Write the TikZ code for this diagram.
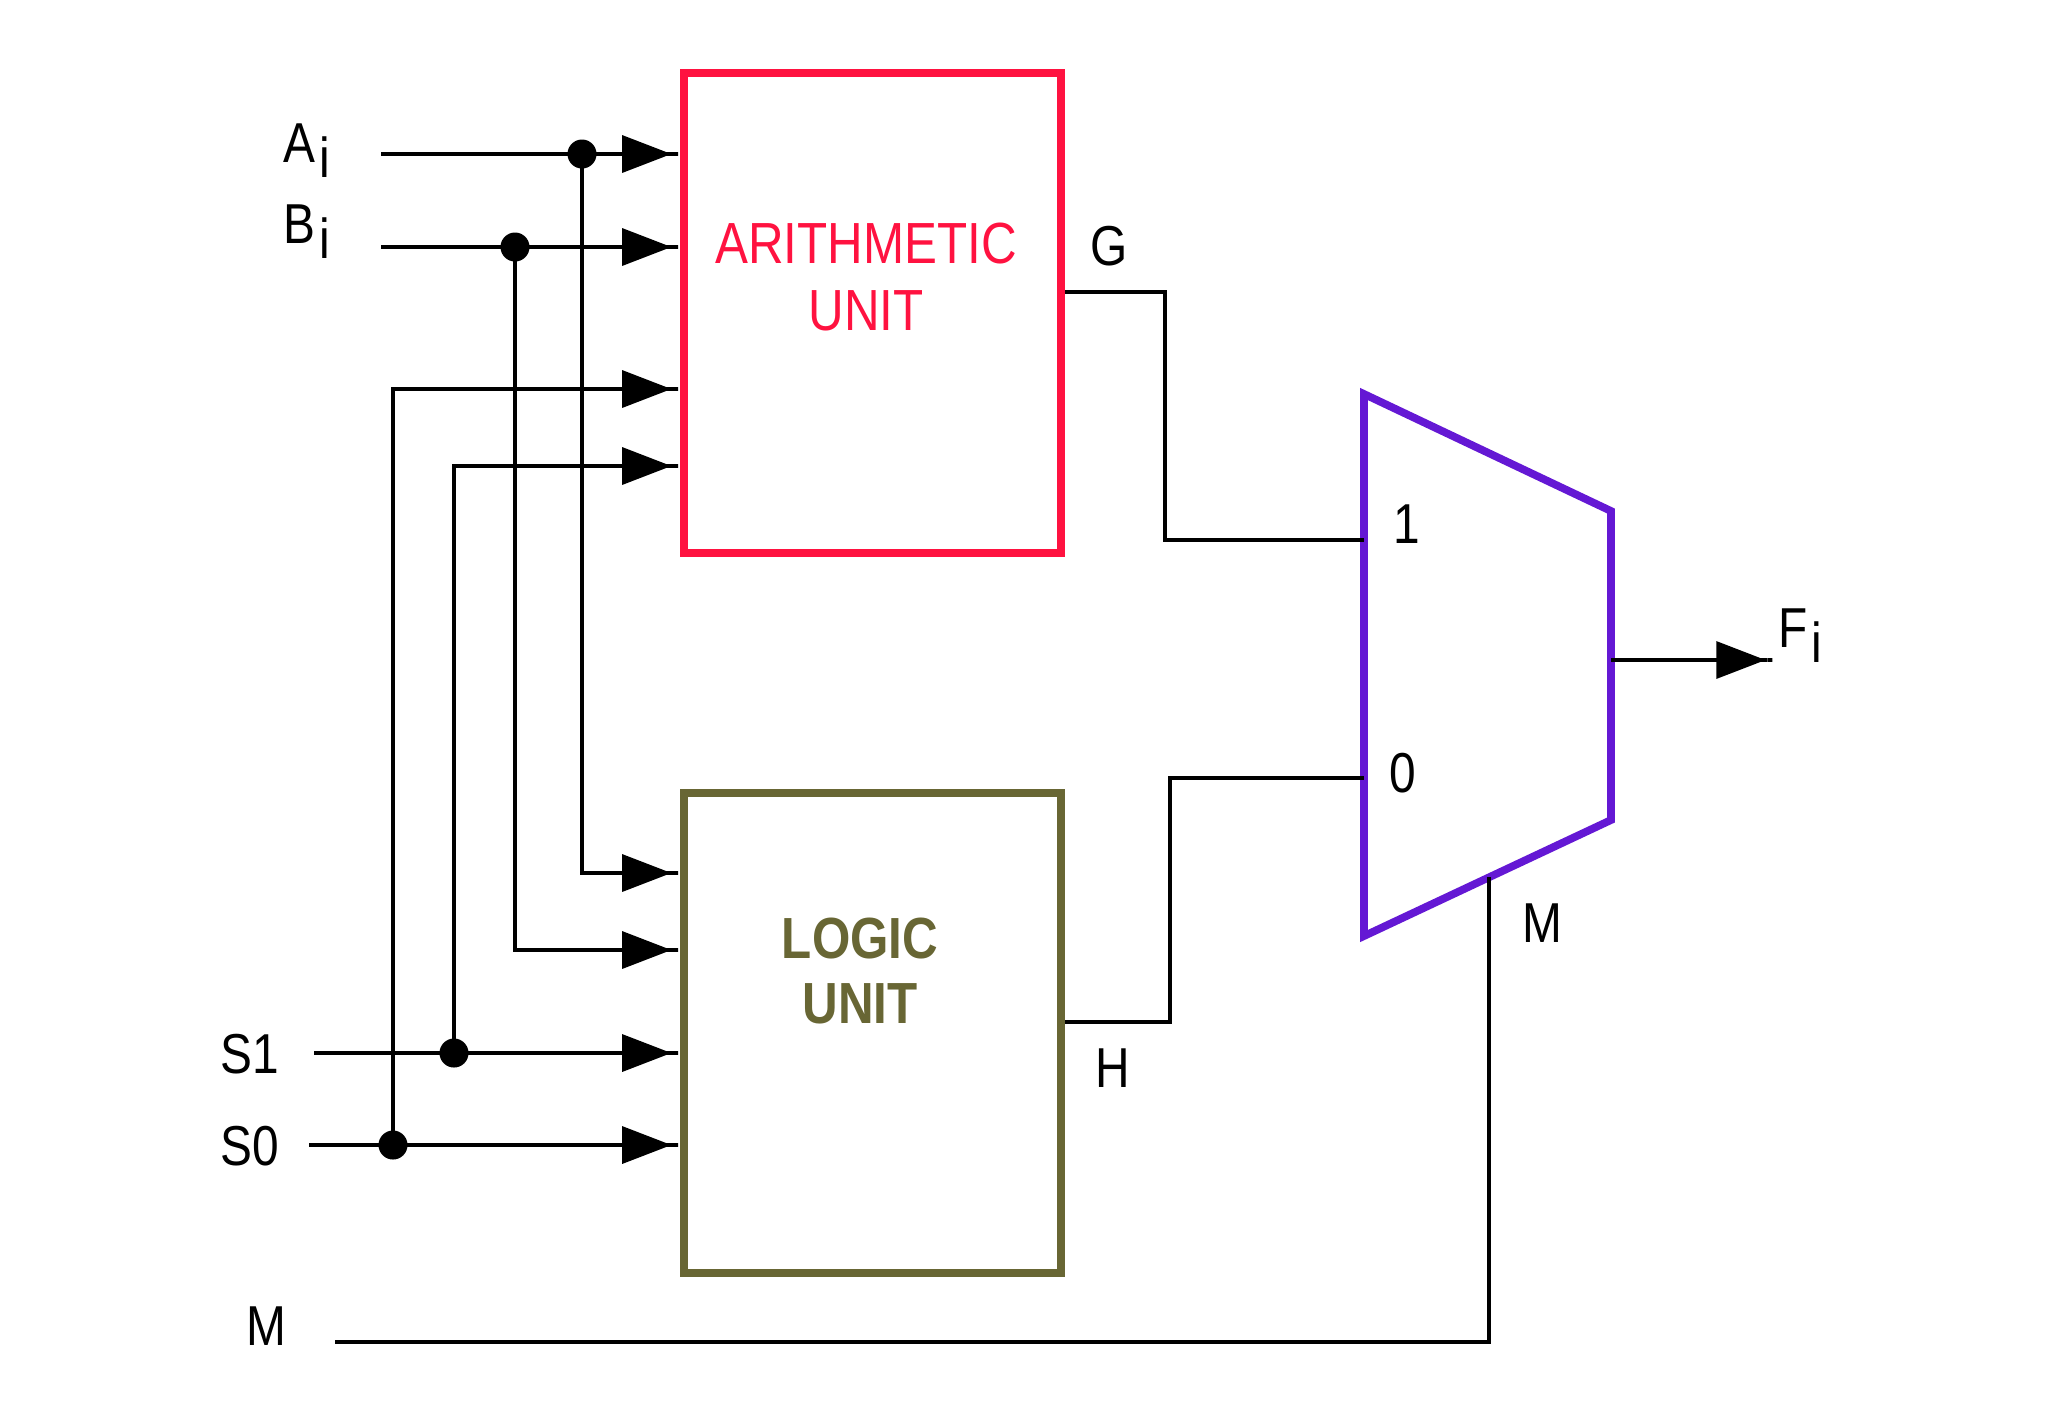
\documentclass[tikz,border=0pt]{standalone}
\usepackage{fontspec}
\setmainfont{Liberation Sans}
\newfontfamily\labfont{Liberation Sans}[FakeStretch=0.85]
\usetikzlibrary{arrows.meta}
\definecolor{arithred}{RGB}{255,18,64}
\definecolor{logicolive}{RGB}{104,102,52}
\definecolor{muxpurple}{RGB}{100,24,212}
\tikzset{
  wire/.style={line width=1pt, black},
  arr/.style={-{Triangle[length=14pt,width=10.5pt] Rectangle[length=2.4pt,width=1pt]}},
  dot/.style={circle, fill=black, inner sep=0pt, minimum size=0.29cm},
  lbl/.style={font=\labfont\fontsize{16}{19}\selectfont, inner sep=0pt, anchor=base west},
  unitbox/.style={draw, line width=2.3pt, inner sep=0pt, minimum width=3.77cm, minimum height=4.79cm},
  boxtext/.style={font=\labfont\fontsize{16.5}{19}\selectfont, align=center, inner sep=0pt}
}
\begin{document}
\begin{tikzpicture}[x=0.01cm, y=-0.01cm]
\useasboundingbox (0,0) rectangle (2046,1408);
% units
\node[unitbox, draw=arithred] (arith) at (872.5,313) {};
\node[unitbox, draw=logicolive] (logic) at (872.5,1033) {};
\node[boxtext, text=arithred] (arithT) at (866,277) {ARITHMETIC\\UNIT};
\node[boxtext, text=logicolive, font=\labfont\bfseries\fontsize{16.5}{18.5}\selectfont] (logicT) at (860,971) {LOGIC\\UNIT};
% mux
\coordinate (m1) at (1364,394);
\coordinate (m2) at (1611,511);
\coordinate (m3) at (1611,820);
\coordinate (m4) at (1364,936);
\draw[muxpurple, line width=2.2pt, line join=miter] (m1) -- (m2) -- (m3) -- (m4) -- cycle;
\coordinate (in1) at (1364,540);
\coordinate (in0) at (1364,778);
\coordinate (mout) at (1611,660);
\coordinate (msel) at (1489,877);
% y levels
\coordinate (yA) at (0,154);
\coordinate (yB) at (0,247);
\coordinate (yA3) at (0,389);
\coordinate (yA4) at (0,466);
\coordinate (yLA) at (0,873);
\coordinate (yLB) at (0,950);
\coordinate (yS1) at (0,1053);
\coordinate (yS0) at (0,1145);
\coordinate (yG) at (0,292);
\coordinate (yH) at (0,1022);
% free ends
\coordinate (aS) at (381,154);
\coordinate (bS) at (381,247);
\coordinate (s1S) at (314,1053);
\coordinate (s0S) at (309,1145);
\coordinate (mS) at (335,1342);
\coordinate (fE) at (1774,660);
% junction dots
\node[dot] (dA) at (582,154) {};
\node[dot] (dB) at (515,247) {};
\node[dot] (dS1) at (454,1053) {};
\node[dot] (dS0) at (393,1145) {};
% labels
\node[lbl] (lA) at (283,162) {A\kern1pt\raisebox{-4.3pt}{i}};
\node[lbl] (lB) at (283,243) {B\kern1pt\raisebox{-4.3pt}{i}};
\node[lbl] (lS1) at (220,1073) {S1};
\node[lbl] (lS0) at (220,1165) {S0};
\node[lbl] (lM) at (246,1345) {M};
\node[lbl] (lG) at (1090,265) {G};
\node[lbl] (lH) at (1095,1087) {H};
\node[lbl] (l1) at (1393,543) {1};
\node[lbl] (l0) at (1389,792) {0};
\node[lbl] (lF) at (1778,647) {F\kern1pt\raisebox{-4.5pt}{i}};
\node[lbl] (lM2) at (1522,942) {M};
% input wires to arithmetic unit
\draw[wire, arr] (aS) -- (arith.west |- yA);
\draw[wire, arr] (bS) -- (arith.west |- yB);
\draw[wire, arr] (dS0.center) |- (arith.west |- yA3);
\draw[wire, arr] (dS1.center) |- (arith.west |- yA4);
% wires to logic unit
\draw[wire, arr] (dA.center) |- (logic.west |- yLA);
\draw[wire, arr] (dB.center) |- (logic.west |- yLB);
\draw[wire, arr] (s1S) -- (logic.west |- yS1);
\draw[wire, arr] (s0S) -- (logic.west |- yS0);
% outputs to mux
\draw[wire, line width=0.9pt] (arith.east |- yG) -| (1165,0 |- in1) -- (in1);
\draw[wire, line width=0.9pt] (logic.east |- yH) -| (1170,0 |- in0) -- (in0);
\draw[wire, line width=0.9pt] (mS) -| (msel);
\draw[wire, arr] (mout) -- (fE);
\end{tikzpicture}
\end{document}
